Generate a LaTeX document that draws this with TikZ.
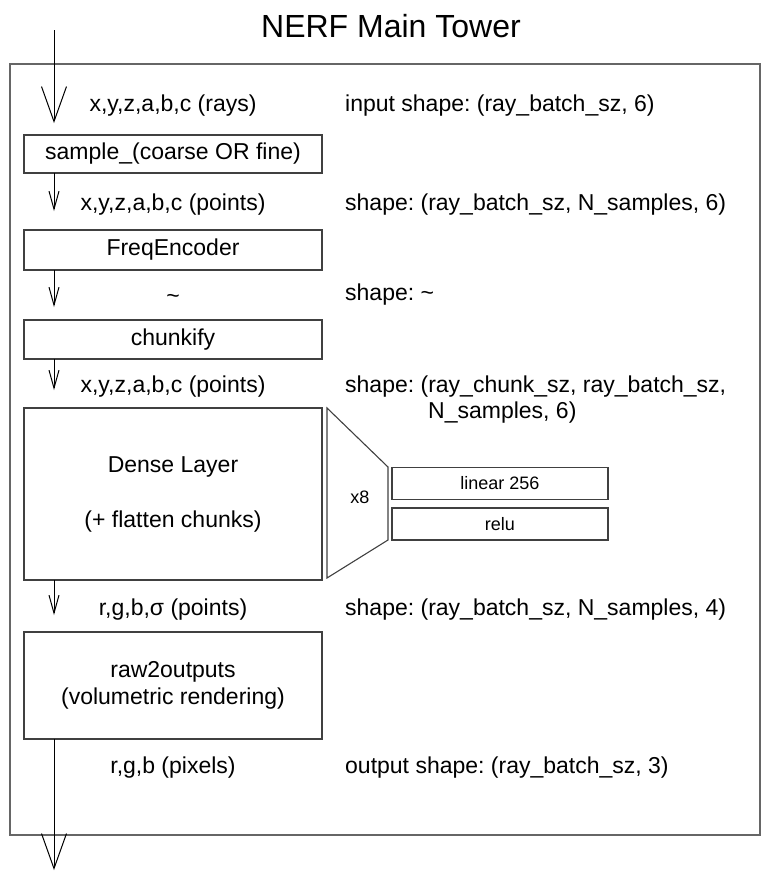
\documentclass[tikz,border=0pt]{standalone}
\usepackage{fontspec}
\setmainfont{Liberation Sans}
\usetikzlibrary{arrows.meta}
\frenchspacing
\begin{document}
\begin{tikzpicture}[x=1pt,y=-1pt,
  txt/.style={font=\fontsize{23}{27}\selectfont},
  box/.style={txt, draw=black!75, line width=1.3pt, inner sep=0pt, outer sep=0pt, minimum width=298pt, align=center},
  lbl/.style={txt, inner sep=0pt, anchor=base},
  rlbl/.style={txt, inner sep=0pt, anchor=base west},
  smallbox/.style={draw=black!75, line width=1.1pt, inner sep=0pt, outer sep=0pt, minimum width=216pt, minimum height=32pt, font=\fontsize{18}{22}\selectfont},
  bigarr/.style={line width=1pt, -{Straight Barb[length=35pt,width=25pt]}},
  smallarr/.style={line width=1pt, -{Straight Barb[length=18pt,width=10pt]}},
]
\useasboundingbox (0,0) rectangle (769,884);

% title and frame
\node[font=\fontsize{32}{38}\selectfont, anchor=base, inner sep=0pt] (title) at (391,37) {NERF Main Tower};
\node[draw=black!60, line width=1.8pt, minimum width=750pt, minimum height=771pt, inner sep=0pt, outer sep=0pt] (tower) at (385,449.5) {};

% main boxes
\node[box, minimum height=38pt] (sample) at (173,154) {sample\_(coarse OR fine)};
\node[box, minimum height=40pt] (freq) at (173,250) {FreqEncoder};
\node[box, minimum height=39pt] (chunk) at (173,339.5) {chunkify};
\node[box, minimum height=172pt] (dense) at (173,494) {Dense Layer\\[28pt](+ flatten chunks)};
\node[box, minimum height=107pt] (raw) at (173,685.5) {raw2outputs\\(volumetric rendering)};

% left labels
\node[lbl] (l1) at (173,111) {x,y,z,a,b,c (rays)};
\node[lbl] (l2) at (173,210) {x,y,z,a,b,c (points)};
\node[lbl] (l3) at (173,303) {\textasciitilde};
\node[lbl] (l4) at (173,392) {x,y,z,a,b,c (points)};
\node[lbl] (l5) at (173,615) {r,g,b,σ (points)};
\node[lbl] (l6) at (173,773) {r,g,b (pixels)};

% right labels
\node[rlbl] (r1) at (345,111) {input shape: (ray\_batch\_sz, 6)};
\node[rlbl] (r2) at (345,210) {shape: (ray\_batch\_sz, N\_samples, 6)};
\node[rlbl] (r3) at (345,300) {shape: \textasciitilde};
\node[rlbl] (r4) at (345,392) {shape: (ray\_chunk\_sz, ray\_batch\_sz,};
\node[rlbl] (r4b) at (428,418) {N\_samples, 6)};
\node[rlbl] (r5) at (345,615) {shape: (ray\_batch\_sz, N\_samples, 4)};
\node[rlbl] (r6) at (345,773) {output shape: (ray\_batch\_sz, 3)};

% dense layer detail
\draw[draw=black!75, line width=1.1pt, line join=miter] (327,408) -- (388,467) -- (388,540) -- (327,578) -- cycle;
\node[font=\fontsize{18}{22}\selectfont, anchor=base, inner sep=0pt] (x8) at (360,503) {x8};
\node[smallbox] (lin) at (500,483.5) {linear 256};
\node[smallbox] (relu) at (500,524) {relu};

% arrows
\coordinate (top) at (54,30);
\coordinate (tip1) at (54,123);
\coordinate (tip2) at (54,211);
\coordinate (tip3) at (54,307);
\coordinate (tip4) at (54,390);
\coordinate (tip5) at (54,615);
\coordinate (out) at (54,870);
\draw[bigarr] (top) -- (tip1);
\draw[smallarr] (sample.south -| top) -- (tip2);
\draw[smallarr] (freq.south -| top) -- (tip3);
\draw[smallarr] (chunk.south -| top) -- (tip4);
\draw[smallarr] (dense.south -| top) -- (tip5);
\draw[bigarr] (raw.south -| top) -- (out);
\end{tikzpicture}
\end{document}
